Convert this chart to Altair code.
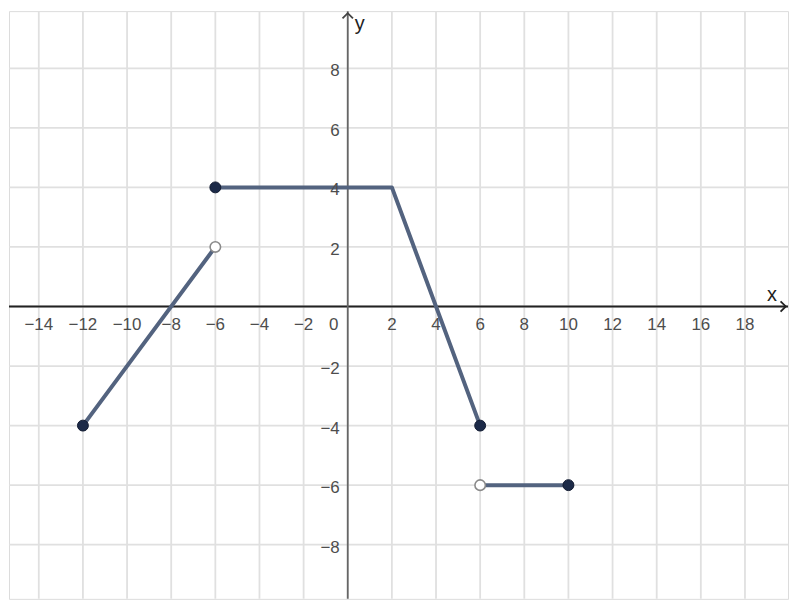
import altair as alt
import pandas as pd

# --- data ---
seg_a_x = [-12, -6]
seg_a_y = [-4, 2]
seg_b_x = [-6, 2, 6]
seg_b_y = [4, 4, -4]
seg_c_x = [6, 10]
seg_c_y = [-6, -6]

closed_x = [-12, -6, 6, 10]
closed_y = [-4, 4, -4, -6]
open_x = [-6, 6]
open_y = [2, -6]

x_ticks = [-14, -12, -10, -8, -6, -4, -2, 2, 4, 6, 8, 10, 12, 14, 16, 18]
y_ticks = [-8, -6, -4, -2, 2, 4, 6, 8]
x_grid = list(range(-14, 20, 2))
y_grid = list(range(-8, 10, 2))

X_DOM = [-15.35, 19.95]
Y_DOM = [-9.82, 9.92]


def lab(v):
    return f"\u2212{abs(v)}" if v < 0 else str(v)


segs = pd.DataFrame(
    [{"seg": "a", "i": i, "x": x, "y": y} for i, (x, y) in enumerate(zip(seg_a_x, seg_a_y))]
    + [{"seg": "b", "i": i, "x": x, "y": y} for i, (x, y) in enumerate(zip(seg_b_x, seg_b_y))]
    + [{"seg": "c", "i": i, "x": x, "y": y} for i, (x, y) in enumerate(zip(seg_c_x, seg_c_y))]
)
closed = pd.DataFrame({"x": closed_x, "y": closed_y})
opened = pd.DataFrame({"x": open_x, "y": open_y})
xt = pd.DataFrame({"v": x_ticks, "t": [lab(v) for v in x_ticks]})
yt = pd.DataFrame({"v": y_ticks, "t": [lab(v) for v in y_ticks]})
xg = pd.DataFrame({"v": x_grid})
yg = pd.DataFrame({"v": y_grid})

xs = alt.Scale(domain=X_DOM, nice=False, zero=False)
ys = alt.Scale(domain=Y_DOM, nice=False, zero=False)

GRID = "#e0e0e0"
FONT = "Liberation Sans"
TICK_COLOR = "#4d4d4d"

vgrid = alt.Chart(xg).mark_rule(color=GRID, strokeWidth=1.8).encode(
    x=alt.X("v:Q", scale=xs, axis=None)
)
hgrid = alt.Chart(yg).mark_rule(color=GRID, strokeWidth=1.8).encode(
    y=alt.Y("v:Q", scale=ys, axis=None)
)

xaxis = alt.Chart().mark_rule(color="#222222", strokeWidth=1.8).encode(
    y=alt.datum(0, scale=ys)
)
yaxis = alt.Chart().mark_rule(color="#666666", strokeWidth=1.8).encode(
    x=alt.datum(0, scale=xs)
)

xarrow = alt.Chart().mark_point(
    shape="M -1 -1 L 0 0 L -1 1", filled=False, color="#222222", strokeWidth=1.8, size=110, opacity=1
).encode(x=alt.datum(X_DOM[1] - 0.1, scale=xs), y=alt.datum(0, scale=ys))
yarrow = alt.Chart().mark_point(
    shape="M -1 1 L 0 0 L 1 1", filled=False, color="#444444", strokeWidth=1.8, size=110, opacity=1
).encode(x=alt.datum(0, scale=xs), y=alt.datum(Y_DOM[1] - 0.07, scale=ys))

xlab = alt.Chart().mark_text(
    text="x", font=FONT, fontSize=20, color="#222222", dx=-16, dy=-12
).encode(x=alt.datum(X_DOM[1], scale=xs), y=alt.datum(0, scale=ys))
ylab = alt.Chart().mark_text(
    text="y", font=FONT, fontSize=20, color="#222222", dx=12, dy=13
).encode(x=alt.datum(0, scale=xs), y=alt.datum(Y_DOM[1], scale=ys))

xticks = alt.Chart(xt).mark_text(
    font=FONT, fontSize=17, color=TICK_COLOR, baseline="middle", dy=19
).encode(x=alt.X("v:Q", scale=xs), y=alt.datum(0, scale=ys), text="t:N")
yticks = alt.Chart(yt).mark_text(
    font=FONT, fontSize=17, color=TICK_COLOR, baseline="middle", align="right", dx=-8, dy=3
).encode(x=alt.datum(0, scale=xs), y=alt.Y("v:Q", scale=ys), text="t:N")
origin = alt.Chart().mark_text(
    text="0", font=FONT, fontSize=17, color=TICK_COLOR, baseline="middle", dx=-14, dy=19
).encode(x=alt.datum(0, scale=xs), y=alt.datum(0, scale=ys))

lines = alt.Chart(segs).mark_line(color="#53637f", strokeWidth=4, strokeCap="round", strokeJoin="round").encode(
    x=alt.X("x:Q", scale=xs), y=alt.Y("y:Q", scale=ys), detail="seg:N", order="i:Q"
)
closed_pts = alt.Chart(closed).mark_point(
    shape="circle", filled=True, size=120, color="#1c2a48", stroke="#111a30", strokeWidth=1, opacity=1
).encode(x=alt.X("x:Q", scale=xs), y=alt.Y("y:Q", scale=ys))
open_pts = alt.Chart(opened).mark_point(
    shape="circle", filled=True, size=110, fill="white", stroke="#8a8a8a", strokeWidth=1.6, opacity=1
).encode(x=alt.X("x:Q", scale=xs), y=alt.Y("y:Q", scale=ys))

chart = (
    alt.layer(
        vgrid, hgrid, xaxis, yaxis, xarrow, yarrow, lines, xticks, yticks, origin,
        closed_pts, open_pts, xlab, ylab
    )
    .properties(width=782, height=590, padding=0, background="white")
    .configure_view(stroke="#dcdcdc", strokeWidth=1)
)

chart.save("out.html", embed_options={"renderer": "svg", "actions": False})
